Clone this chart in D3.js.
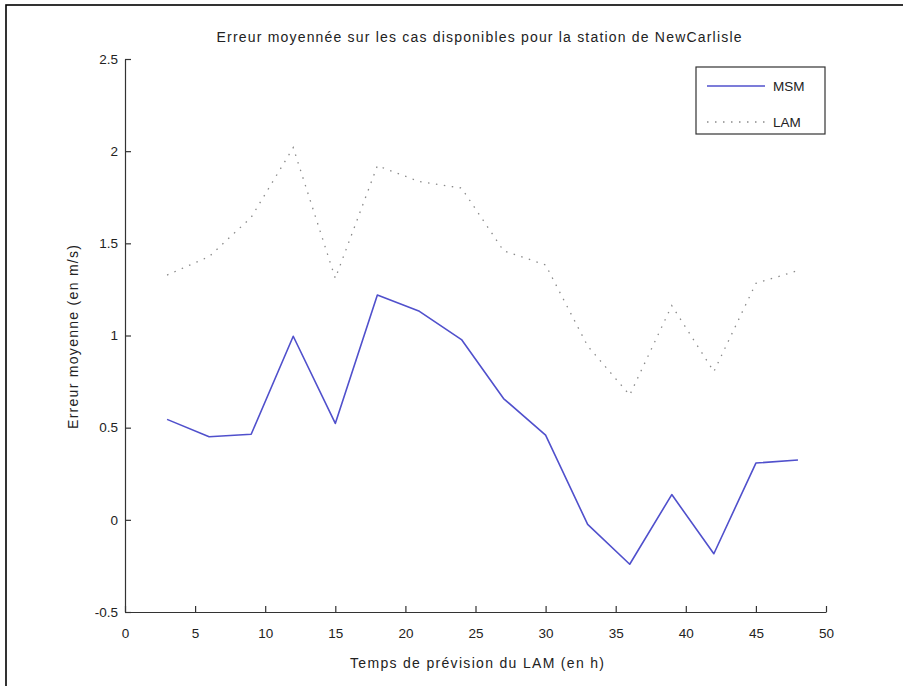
<!DOCTYPE html>
<html>
<head>
<meta charset="utf-8">
<script src="https://cdn.jsdelivr.net/npm/d3@7"></script>
<style>
  body { margin: 0; background: #fff; }
  svg text { font-family: "Liberation Sans", Arial, sans-serif; fill: #222; }
</style>
</head>
<body>
<script>
// ----- DATA -----
const hours = [3, 6, 9, 12, 15, 18, 21, 24, 27, 30, 33, 36, 39, 42, 45, 48];
const msm = [0.545, 0.451, 0.464, 0.996, 0.523, 1.22, 1.131, 0.978, 0.658, 0.46, -0.025, -0.241, 0.137, -0.184, 0.308, 0.325];
const lam = [1.328, 1.428, 1.641, 2.019, 1.31, 1.921, 1.835, 1.80, 1.46, 1.383, 0.943, 0.677, 1.162, 0.804, 1.283, 1.352];
const xTicks = [0, 5, 10, 15, 20, 25, 30, 35, 40, 45, 50];
const yTicks = [-0.5, 0, 0.5, 1, 1.5, 2, 2.5];
const seriesNames = ["MSM", "LAM"];

const w = 903, h = 686;

const svg = d3.select("body").append("svg")
  .attr("width", w)
  .attr("height", h);

// outer frame (right/bottom edges fall outside the picture)
svg.append("rect")
  .attr("x", 6).attr("y", 5)
  .attr("width", 910).attr("height", 700)
  .attr("fill", "none")
  .attr("stroke", "#000")
  .attr("stroke-width", 1.6);

// ----- SCALES -----
const xScale = d3.scaleLinear().domain([0, 50]).range([125, 826]);
const yScale = d3.scaleLinear().domain([-0.5, 2.5]).range([612, 59]);

// ----- AXES ----- (ticks point inward like matlab)
const xAxis = d3.axisBottom(xScale)
  .tickValues(xTicks)
  .tickFormat(d => String(d))
  .tickSizeInner(-6).tickSizeOuter(0)
  .tickPadding(16);

const yAxis = d3.axisLeft(yScale)
  .tickValues(yTicks)
  .tickFormat(d => String(d))
  .tickSizeInner(-6).tickSizeOuter(0)
  .tickPadding(7);

const gx = svg.append("g")
  .attr("transform", "translate(0," + yScale(-0.5) + ")")
  .call(xAxis);

const gy = svg.append("g")
  .attr("transform", "translate(" + xScale(0) + ",0)")
  .call(yAxis);

[gx, gy].forEach(g => {
  g.selectAll("path, line").attr("stroke", "#333").attr("stroke-width", 1.2);
  g.selectAll("text").style("font-size", "13.5px").attr("fill", "#222");
});

// ----- LINES -----
const line = d3.line()
  .x(d => xScale(d[0]))
  .y(d => yScale(d[1]));

svg.append("path")
  .datum(hours.map((x, i) => [x, lam[i]]))
  .attr("d", line)
  .attr("fill", "none")
  .attr("stroke", "#8a8a8a")
  .attr("stroke-width", 1.3)
  .attr("stroke-dasharray", "1.5 6.5");

svg.append("path")
  .datum(hours.map((x, i) => [x, msm[i]]))
  .attr("d", line)
  .attr("fill", "none")
  .attr("stroke", "#5050cc")
  .attr("stroke-width", 1.6)
  .attr("stroke-linejoin", "round");

// ----- TITLE & LABELS ----- (stretched to the reference widths)
svg.append("text")
  .attr("x", 479).attr("y", 42)
  .attr("text-anchor", "middle")
  .attr("textLength", 525)
  .attr("lengthAdjust", "spacing")
  .style("font-size", "14px")
  .text("Erreur moyennée sur les cas disponibles pour la station de NewCarlisle");

svg.append("text")
  .attr("x", 477).attr("y", 668)
  .attr("text-anchor", "middle")
  .attr("textLength", 254)
  .attr("lengthAdjust", "spacing")
  .style("font-size", "14px")
  .text("Temps de prévision du LAM (en h)");

svg.append("text")
  .attr("transform", "translate(78,337) rotate(-90)")
  .attr("text-anchor", "middle")
  .attr("textLength", 184)
  .attr("lengthAdjust", "spacing")
  .style("font-size", "14px")
  .text("Erreur moyenne (en m/s)");

// ----- LEGEND -----
const legend = svg.append("g").attr("id", "legend");
legend.append("rect")
  .attr("x", 696).attr("y", 67)
  .attr("width", 129).attr("height", 67)
  .attr("fill", "#fff")
  .attr("stroke", "#333")
  .attr("stroke-width", 1.2);

const legendStyles = [
  { stroke: "#5050cc", width: 1.6, dash: null },
  { stroke: "#8a8a8a", width: 1.3, dash: "1.5 6.5" }
];

seriesNames.forEach((name, i) => {
  const y = 86 + i * 36;
  legend.append("line")
    .attr("x1", 707).attr("x2", 765)
    .attr("y1", y).attr("y2", y)
    .attr("stroke", legendStyles[i].stroke)
    .attr("stroke-width", legendStyles[i].width)
    .attr("stroke-dasharray", legendStyles[i].dash);
  legend.append("text")
    .attr("x", 773).attr("y", y + 5)
    .style("font-size", "13.5px")
    .text(name);
});
</script>
</body>
</html>
